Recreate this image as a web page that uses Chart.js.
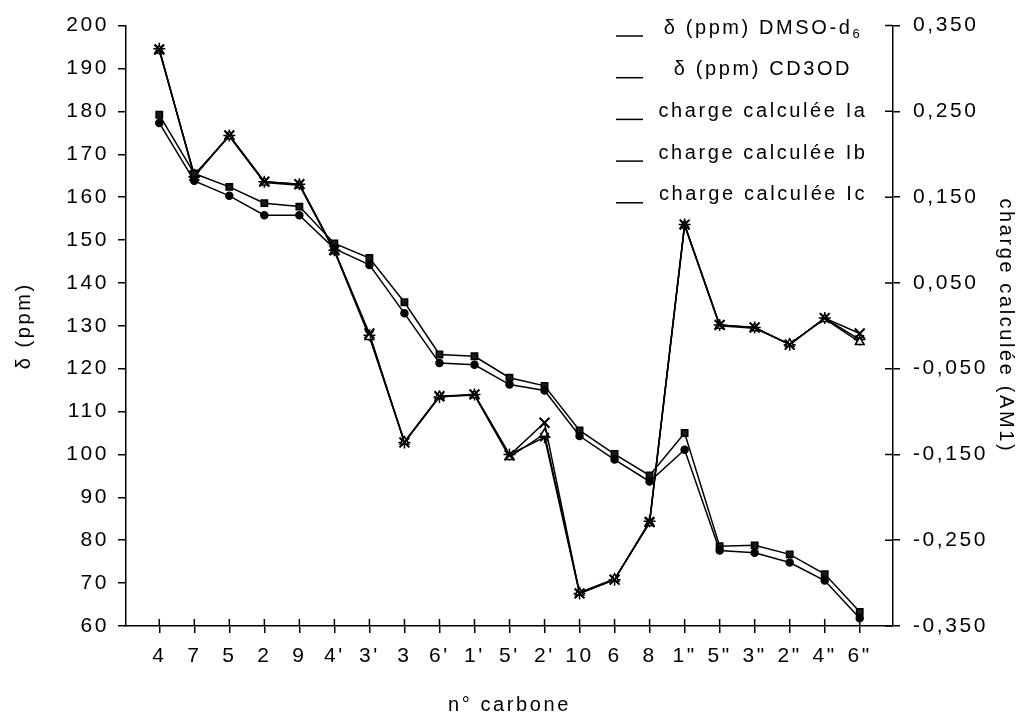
<!DOCTYPE html>
<html>
<head>
<meta charset="utf-8">
<script src="https://cdn.jsdelivr.net/npm/chart.js@4.4.1/dist/chart.umd.min.js"></script>
<style>
  html, body { margin: 0; background: #fff; }
  #wrap { width: 1028px; height: 721px; }
</style>
</head>
<body>
<div id="wrap"><canvas id="shifts"></canvas></div>
<script>
// carbon numbering along the x axis
const carbons = ["4", "7", "5", "2", "9", "4'", "3'", "3", "6'", "1'", "5'", "2'", "10", "6", "8", "1\"", "5\"", "3\"", "2\"", "4\"", "6\""];

// chemical shifts (ppm), left axis
const dmso = [177.3, 163.8, 160.3, 155.8, 155.8, 148.0, 144.2, 132.9, 121.3, 120.9, 116.3, 114.9, 104.3, 98.8, 93.7, 101.1, 77.6, 77.1, 74.8, 70.6, 61.8];
const cd3od = [179.2, 165.5, 162.4, 158.6, 157.8, 149.2, 145.8, 135.5, 123.3, 122.9, 117.9, 116.0, 105.6, 100.1, 95.1, 105.0, 78.6, 78.8, 76.7, 72.1, 63.3];

// AM1 charges, right axis
const chargeIa = [0.322, 0.175, 0.222, 0.168, 0.165, 0.088, -0.009, -0.136, -0.082, -0.080, -0.151, -0.113, -0.312, -0.296, -0.229, 0.118, 0.001, -0.002, -0.022, 0.009, -0.009];
const chargeIb = [0.321, 0.176, 0.221, 0.167, 0.164, 0.087, -0.013, -0.135, -0.082, -0.081, -0.153, -0.126, -0.311, -0.295, -0.230, 0.117, 0.000, -0.003, -0.021, 0.008, -0.019];
const chargeIc = [0.323, 0.174, 0.222, 0.168, 0.165, 0.088, -0.011, -0.136, -0.083, -0.080, -0.150, -0.130, -0.312, -0.296, -0.228, 0.118, 0.001, -0.002, -0.022, 0.009, -0.016];

const FONT = '"Liberation Sans", Arial, sans-serif';
Chart.defaults.font.family = FONT;
Chart.defaults.color = "#000";

const pts = (arr) => arr.map((v, i) => ({ x: i, y: v }));

// stretched lettering, like the printed figure
const spacing = {
  id: "spacing",
  beforeDraw(chart) { chart.ctx.letterSpacing = "2.6px"; }
};

// tick marks that cross the bottom and right axes
const innerTicks = {
  id: "innerTicks",
  afterDraw(chart) {
    const { ctx, chartArea, scales } = chart;
    ctx.save();
    ctx.strokeStyle = "#000";
    ctx.lineWidth = 1.5;
    ctx.beginPath();
    scales.x.ticks.forEach((t) => {
      const px = scales.x.getPixelForValue(t.value);
      ctx.moveTo(px, chartArea.bottom);
      ctx.lineTo(px, chartArea.bottom - 7);
    });
    scales.y1.ticks.forEach((t) => {
      const py = scales.y1.getPixelForValue(t.value);
      ctx.moveTo(chartArea.right, py);
      ctx.lineTo(chartArea.right - 8, py);
    });
    ctx.stroke();
    ctx.restore();
  }
};

// legend block in the upper right corner
const legendBox = {
  id: "legendBox",
  afterDraw(chart) {
    const ctx = chart.ctx;
    ctx.save();
    ctx.fillStyle = "#000";
    ctx.strokeStyle = "#000";
    ctx.lineWidth = 1.5;
    ctx.textBaseline = "middle";
    ctx.textAlign = "left";
    chart.data.datasets.forEach((ds, i) => {
      const y = 28 + i * 41.7;
      let main = ds.label, sub = "";
      if (main.endsWith("₆")) { main = main.slice(0, -1); sub = "6"; }
      ctx.font = "20px " + FONT;
      const w1 = ctx.measureText(main).width;
      ctx.font = "13px " + FONT;
      const w2 = sub ? ctx.measureText(sub).width : 0;
      const x0 = 763 - (w1 + w2) / 2;
      ctx.font = "20px " + FONT;
      ctx.fillText(main, x0, y);
      if (sub) {
        ctx.font = "13px " + FONT;
        ctx.fillText(sub, x0 + w1, y + 6);
      }
      ctx.beginPath();
      ctx.moveTo(616, y + 8);
      ctx.lineTo(643, y + 8);
      ctx.stroke();
    });
    ctx.restore();
  }
};

const lineBase = { borderColor: "#000", backgroundColor: "#000", borderWidth: 1.5, tension: 0 };

new Chart(document.getElementById("shifts"), {
  type: "line",
  data: {
    datasets: [
      { ...lineBase, label: "δ (ppm) DMSO-d₆", data: pts(dmso), yAxisID: "y",
        pointStyle: "circle", pointRadius: 3.5 },
      { ...lineBase, label: "δ (ppm) CD3OD", data: pts(cd3od), yAxisID: "y",
        pointStyle: "rect", pointRadius: 4.5, backgroundColor: "#1a1a1a" },
      { ...lineBase, label: "charge calculée Ia", data: pts(chargeIa), yAxisID: "y1",
        pointStyle: "crossRot", pointRadius: 7, pointBorderWidth: 2 },
      { ...lineBase, label: "charge calculée Ib", data: pts(chargeIb), yAxisID: "y1",
        pointStyle: "triangle", pointRadius: 5, backgroundColor: "#fff" },
      { ...lineBase, label: "charge calculée Ic", data: pts(chargeIc), yAxisID: "y1",
        pointStyle: "star", pointRadius: 6 }
    ]
  },
  options: {
    responsive: true,
    maintainAspectRatio: false,
    devicePixelRatio: 1,
    animation: false,
    layout: { padding: { top: 20, left: 0, right: 0, bottom: 0 } },
    plugins: { legend: { display: false }, tooltip: { enabled: false } },
    scales: {
      x: {
        type: "linear",
        min: -0.95,
        max: 20.95,
        afterBuildTicks: (s) => { s.ticks = carbons.map((c, i) => ({ value: i })); },
        afterFit: (s) => { s.height = 95; },
        ticks: {
          callback: (v) => carbons[v],
          autoSkip: false,
          maxRotation: 0,
          padding: 11,
          font: { size: 21 }
        },
        grid: { drawOnChartArea: false, tickLength: 7, color: "#000", lineWidth: 1.5 },
        border: { color: "#000", width: 1.5 },
        title: { display: true, text: "n° carbone", font: { size: 20 }, padding: { top: 0, bottom: 4 } }
      },
      y: {
        position: "left",
        min: 60,
        max: 200,
        afterFit: (s) => { s.width = 126; },
        ticks: { stepSize: 10, padding: 9, font: { size: 21 } },
        grid: { drawOnChartArea: false, tickLength: 8, color: "#000", lineWidth: 1.5 },
        border: { color: "#000", width: 1.5 },
        title: { display: true, text: "δ (ppm)", font: { size: 20 }, padding: { top: 12, bottom: 0 } }
      },
      y1: {
        position: "right",
        min: -0.35,
        max: 0.35,
        afterFit: (s) => { s.width = 135; },
        ticks: {
          stepSize: 0.1,
          padding: 13,
          font: { size: 21 },
          callback: (v) => v.toFixed(3).replace(".", ",")
        },
        grid: { drawOnChartArea: false, tickLength: 7, color: "#000", lineWidth: 1.5 },
        border: { color: "#000", width: 1.5 },
        title: { display: true, text: "charge calculée (AM1)", font: { size: 20 }, padding: { top: 10, bottom: 0 } }
      }
    }
  },
  plugins: [spacing, innerTicks, legendBox]
});
</script>
</body>
</html>
